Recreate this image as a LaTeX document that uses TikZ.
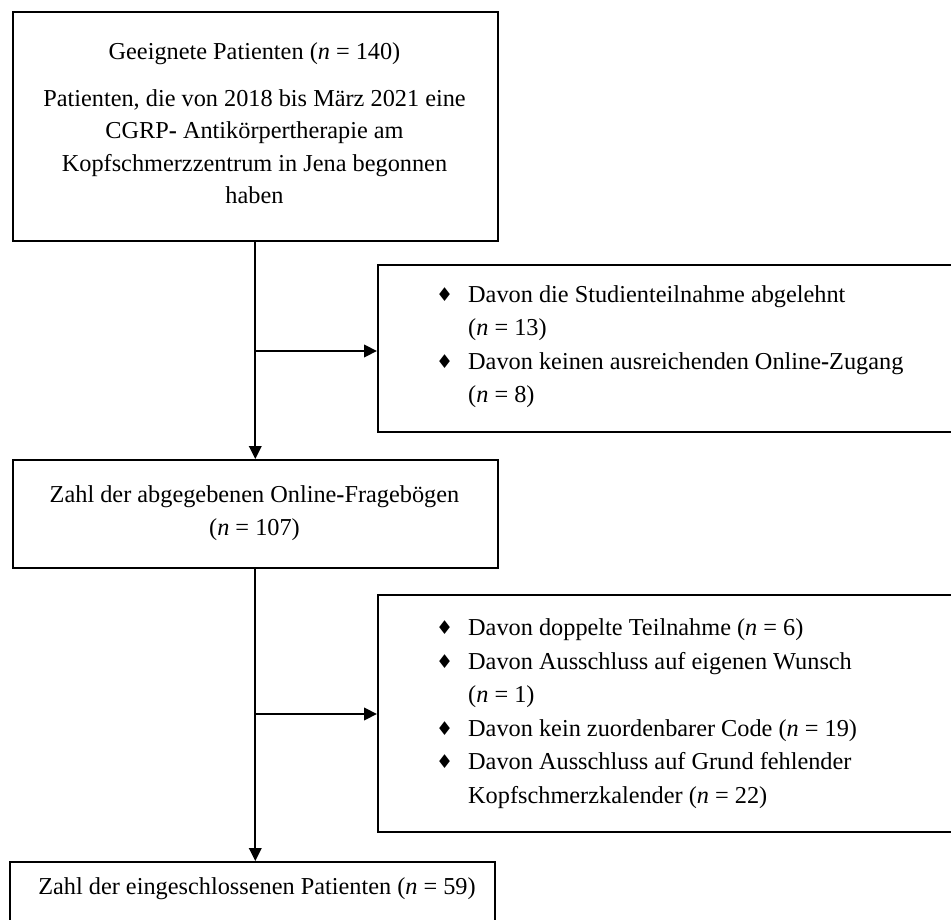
\documentclass[tikz,border=0pt]{standalone}
\usepackage{fontspec}
\setmainfont{Liberation Serif}
\newfontfamily\symfnt{DejaVu Sans}
\usetikzlibrary{arrows.meta}
\newcommand{\bul}{\makebox[32pt][l]{\raisebox{1pt}{\symfnt\fontsize{19}{19}\selectfont ♦}}}
\newcommand{\ind}{\hspace*{32pt}}
\begin{document}
\begin{tikzpicture}[x=1pt,y=-1pt,
  box/.style={draw,line width=1.6pt,inner sep=0pt,anchor=north west},
  txt/.style={inner sep=0pt,font=\fontsize{24.3}{33.5}\selectfont},
  arr/.style={line width=2.2pt,-{Triangle[length=13pt,width=12.5pt]}}]
\useasboundingbox (0,0) rectangle (951,920);
\clip (0,0) rectangle (951,920);
% boxes
\node[box,minimum width=485pt,minimum height=229pt] (b1) at (12,11) {};
\node[box,minimum width=582pt,minimum height=167pt] (b2) at (377,264) {};
\node[box,minimum width=485pt,minimum height=108pt] (b3) at (12,459) {};
\node[box,minimum width=582pt,minimum height=237pt] (b4) at (377,594) {};
\node[box,minimum width=485pt,minimum height=75pt] (b5) at (9,861) {};
% texts
\node[txt] (t1a) at (254.5,53) {\strut Geeignete Patienten (\textit{n} = 140)};
\node[txt,align=center,font=\fontsize{24.3}{32.3}\selectfont] (t1b) at (254.5,148.5)
  {\strut Patienten, die von 2018 bis März 2021 eine\\
   CGRP\textbf{-} Antikörpertherapie am\\
   Kopfschmerzzentrum in Jena begonnen\\
   haben\strut};
\node[txt,align=left,anchor=west] (t2) at (436,346)
  {\strut\bul Davon die Studienteilnahme abgelehnt\\
   \ind(\textit{n} = 13)\\
   \bul Davon keinen ausreichenden Online\textbf{-}Zugang\\
   \ind(\textit{n} = 8)\strut};
\node[txt,align=center] (t3) at (254.5,512.5)
  {\strut Zahl der abgegebenen Online\textbf{-}Fragebögen\\
   (\textit{n} = 107)\strut};
\node[txt,align=left,anchor=west] (t4) at (436,713)
  {\strut\bul Davon doppelte Teilnahme (\textit{n} = 6)\\
   \bul Davon Ausschluss auf eigenen Wunsch\\
   \ind(\textit{n} = 1)\\
   \bul Davon kein zuordenbarer Code (\textit{n} = 19)\\
   \bul Davon Ausschluss auf Grund fehlender\\
   \ind Kopfschmerzkalender (\textit{n} = 22)\strut};
\node[txt] (t5) at (257,888) {\strut Zahl der eingeschlossenen Patienten (\textit{n} = 59)};
% connectors
\coordinate (j1) at (254.5,351);
\coordinate (j2) at (254.5,714);
\draw[arr] (b1.south) -- (b3.north);
\draw[arr] (j1) -- (j1 -| b2.west);
\draw[arr] (b3.south) -- (b3.south |- b5.north);
\draw[arr] (j2) -- (j2 -| b4.west);
\end{tikzpicture}
\end{document}
